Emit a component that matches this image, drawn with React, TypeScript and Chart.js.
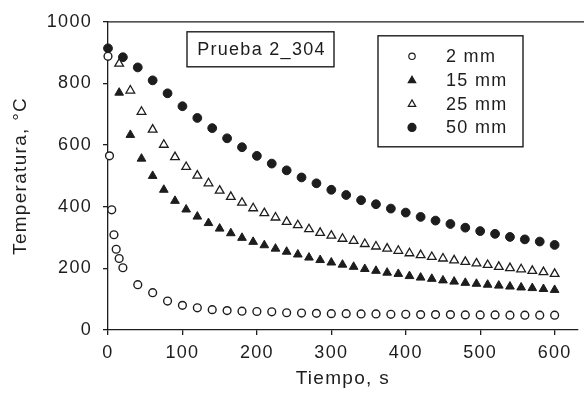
import React, { useEffect, useRef } from 'react';
import { Chart, registerables } from 'chart.js';

Chart.register(...registerables);

const FONT = '"Liberation Sans", Arial, Helvetica, sans-serif';
const INK = '#1d1d1d';

const seriesLabels = ['2 mm', '15 mm', '25 mm', '50 mm'];
const boxLabel = 'Prueba 2_304';
const xTitle = 'Tiempo, s';
const yTitle = 'Temperatura, °C';
const xTickValues = [0, 100, 200, 300, 400, 500, 600];
const yTickValues = [0, 200, 400, 600, 800, 1000];

// 2 mm (open circles)
const t2mm = [0, 2, 5, 8, 11, 15, 20, 40, 60, 80, 100, 120, 140, 160, 180, 200, 220, 240, 260, 280, 300, 320, 340, 360, 380, 400, 420, 440, 460, 480, 500, 520, 540, 560, 580, 600];
const v2mm = [888, 565, 390, 309, 262, 232, 202, 147, 121, 94, 80, 72, 66, 63, 61, 60, 59, 56, 55, 54, 53, 53, 52, 52, 51, 51, 50, 50, 50, 49, 49, 49, 48, 48, 48, 48];

// 15 mm (filled triangles)
const t15mm = [15, 30, 45, 60, 75, 90, 105, 120, 135, 150, 165, 180, 195, 210, 225, 240, 255, 270, 285, 300, 315, 330, 345, 360, 375, 390, 405, 420, 435, 450, 465, 480, 495, 510, 525, 540, 555, 570, 585, 600];
const v15mm = [770, 633, 556, 500, 455, 419, 391, 368, 347, 329, 314, 299, 286, 275, 264, 254, 245, 235, 227, 219, 212, 205, 198, 192, 186, 182, 175, 170, 166, 161, 157, 153, 150, 147, 144, 141, 138, 136, 133, 130];

// 25 mm (open triangles)
const t25mm = [15, 30, 45, 60, 75, 90, 105, 120, 135, 150, 165, 180, 195, 210, 225, 240, 255, 270, 285, 300, 315, 330, 345, 360, 375, 390, 405, 420, 435, 450, 465, 480, 495, 510, 525, 540, 555, 570, 585, 600];
const v25mm = [864, 777, 708, 650, 601, 561, 529, 501, 476, 452, 432, 413, 395, 379, 365, 351, 340, 327, 315, 306, 296, 289, 279, 271, 264, 257, 249, 243, 237, 232, 226, 221, 216, 211, 205, 201, 197, 192, 188, 182];

// 50 mm (filled circles)
const t50mm = [0, 20, 40, 60, 80, 100, 120, 140, 160, 180, 200, 220, 240, 260, 280, 300, 320, 340, 360, 380, 400, 420, 440, 460, 480, 500, 520, 540, 560, 580, 600];
const v50mm = [914, 885, 852, 810, 768, 726, 688, 655, 622, 593, 565, 540, 518, 495, 476, 455, 438, 421, 408, 394, 381, 367, 355, 344, 332, 321, 312, 302, 294, 287, 276];

const toPoints = (xs: number[], ys: number[]) => xs.map((x, i) => ({ x, y: ys[i] }));

function drawMarker(ctx: CanvasRenderingContext2D, kind: string, x: number, y: number, r: number, filled: boolean) {
  ctx.save();
  ctx.beginPath();
  if (kind === 'circle') {
    ctx.arc(x, y, r, 0, Math.PI * 2);
  } else {
    let a = 0;
    ctx.moveTo(x + Math.sin(a) * r, y - Math.cos(a) * r);
    a += (2 * Math.PI) / 3;
    ctx.lineTo(x + Math.sin(a) * r, y - Math.cos(a) * r);
    a += (2 * Math.PI) / 3;
    ctx.lineTo(x + Math.sin(a) * r, y - Math.cos(a) * r);
    ctx.closePath();
  }
  ctx.fillStyle = filled ? INK : '#ffffff';
  ctx.fill();
  ctx.lineWidth = 1.2;
  ctx.strokeStyle = INK;
  ctx.stroke();
  ctx.restore();
}

const decorPlugin = {
  id: 'decor',
  beforeDraw(chart: any) {
    const ctx = chart.ctx as any;
    ctx.save();
    ctx.fillStyle = '#ffffff';
    ctx.fillRect(0, 0, chart.width, chart.height);
    ctx.restore();
    ctx.letterSpacing = '1.3px';
  },
  afterDraw(chart: any) {
    const ctx = chart.ctx as any;
    const area = chart.chartArea;
    ctx.save();
    ctx.letterSpacing = '1.3px';
    // top frame line
    ctx.strokeStyle = INK;
    ctx.lineWidth = 1.3;
    ctx.beginPath();
    ctx.moveTo(area.left, area.top);
    ctx.lineTo(area.right + 10, area.top);
    ctx.stroke();

    // annotation box
    const bx = area.left + 79;
    const by = area.top + 10;
    const bw = 147;
    const bh = 35;
    ctx.lineWidth = 1.4;
    ctx.strokeRect(bx, by, bw, bh);
    ctx.fillStyle = INK;
    ctx.font = `18px ${FONT}`;
    ctx.textAlign = 'center';
    ctx.textBaseline = 'middle';
    ctx.fillText(boxLabel, bx + bw / 2 + 1, by + bh / 2 + 1);

    // legend box
    const lx = area.left + 270;
    const ly = area.top + 14;
    const lw = 145;
    const lh = 111;
    ctx.strokeRect(lx, ly, lw, lh);
    const kinds = [
      ['circle', false, 3.2],
      ['triangle', true, 4.3],
      ['triangle', false, 4.3],
      ['circle', true, 4],
    ] as [string, boolean, number][];
    ctx.textAlign = 'left';
    seriesLabels.forEach((lab, i) => {
      const yy = ly + 20.5 + i * 23.7;
      const [k, f, r] = kinds[i];
      drawMarker(ctx, k, lx + 34, yy + (k === 'triangle' ? 0.5 : 0), r, f);
      ctx.fillStyle = INK;
      ctx.fillText(lab, lx + 68, yy + 1);
    });
    ctx.restore();
  },
};

export default function App() {
  const ref = useRef<HTMLCanvasElement | null>(null);

  useEffect(() => {
    document.body.style.margin = '0';
    const canvas = ref.current;
    if (!canvas) return;
    const chart = new Chart(canvas, {
      type: 'scatter',
      data: {
        datasets: [
          {
            label: seriesLabels[0],
            data: toPoints(t2mm, v2mm),
            pointStyle: 'circle',
            pointRadius: 3.9,
            pointBackgroundColor: '#ffffff',
            pointBorderColor: INK,
            pointBorderWidth: 1.4,
            showLine: false,
            clip: false,
          },
          {
            label: seriesLabels[1],
            data: toPoints(t15mm, v15mm),
            pointStyle: 'triangle',
            pointRadius: 5,
            pointBackgroundColor: INK,
            pointBorderColor: INK,
            pointBorderWidth: 1,
            showLine: false,
            clip: false,
          },
          {
            label: seriesLabels[2],
            data: toPoints(t25mm, v25mm),
            pointStyle: 'triangle',
            pointRadius: 5,
            pointBackgroundColor: '#ffffff',
            pointBorderColor: INK,
            pointBorderWidth: 1.3,
            showLine: false,
            clip: false,
          },
          {
            label: seriesLabels[3],
            data: toPoints(t50mm, v50mm),
            pointStyle: 'circle',
            pointRadius: 4.4,
            pointBackgroundColor: INK,
            pointBorderColor: INK,
            pointBorderWidth: 1,
            showLine: false,
            clip: false,
          },
        ],
      },
      options: {
        animation: false,
        responsive: false,
        devicePixelRatio: 1,
        layout: { padding: { top: 18, right: 0, bottom: 0, left: 0 } },
        plugins: {
          legend: { display: false },
          tooltip: { enabled: false },
        },
        scales: {
          x: {
            type: 'linear',
            min: 0,
            max: 631,
            afterBuildTicks: (s: any) => {
              s.ticks = xTickValues.map((v) => ({ value: v }));
            },
            afterFit: (s: any) => {
              s.height = 71;
            },
            border: { display: true, color: INK, width: 1.3 },
            grid: { display: true, drawOnChartArea: false, drawTicks: true, tickLength: 5, color: INK, lineWidth: 1.3 },
            ticks: { color: INK, font: { family: FONT, size: 18 }, padding: 7, maxRotation: 0, callback: (v: any) => String(v) },
            title: { display: true, text: xTitle, color: INK, font: { family: FONT, size: 19 }, padding: { top: 0, bottom: 11 } },
          },
          y: {
            type: 'linear',
            min: 0,
            max: 1000,
            afterBuildTicks: (s: any) => {
              s.ticks = yTickValues.map((v) => ({ value: v }));
            },
            afterFit: (s: any) => {
              s.width = 108;
            },
            border: { display: true, color: INK, width: 1.3 },
            grid: { display: true, drawOnChartArea: false, drawTicks: true, tickLength: 5, color: INK, lineWidth: 1.3 },
            ticks: { color: INK, font: { family: FONT, size: 18 }, padding: 11, callback: (v: any) => String(v) },
            title: { display: true, text: yTitle, color: INK, font: { family: FONT, size: 19 }, padding: { top: 9, bottom: 0 } },
          },
        },
      },
      plugins: [decorPlugin],
    });
    return () => chart.destroy();
  }, []);

  return (
    <div style={{ position: 'fixed', left: 0, top: 0, width: 584, height: 401, background: '#fff' }}>
      <canvas ref={ref} width={584} height={401} style={{ display: 'block' }} />
    </div>
  );
}
